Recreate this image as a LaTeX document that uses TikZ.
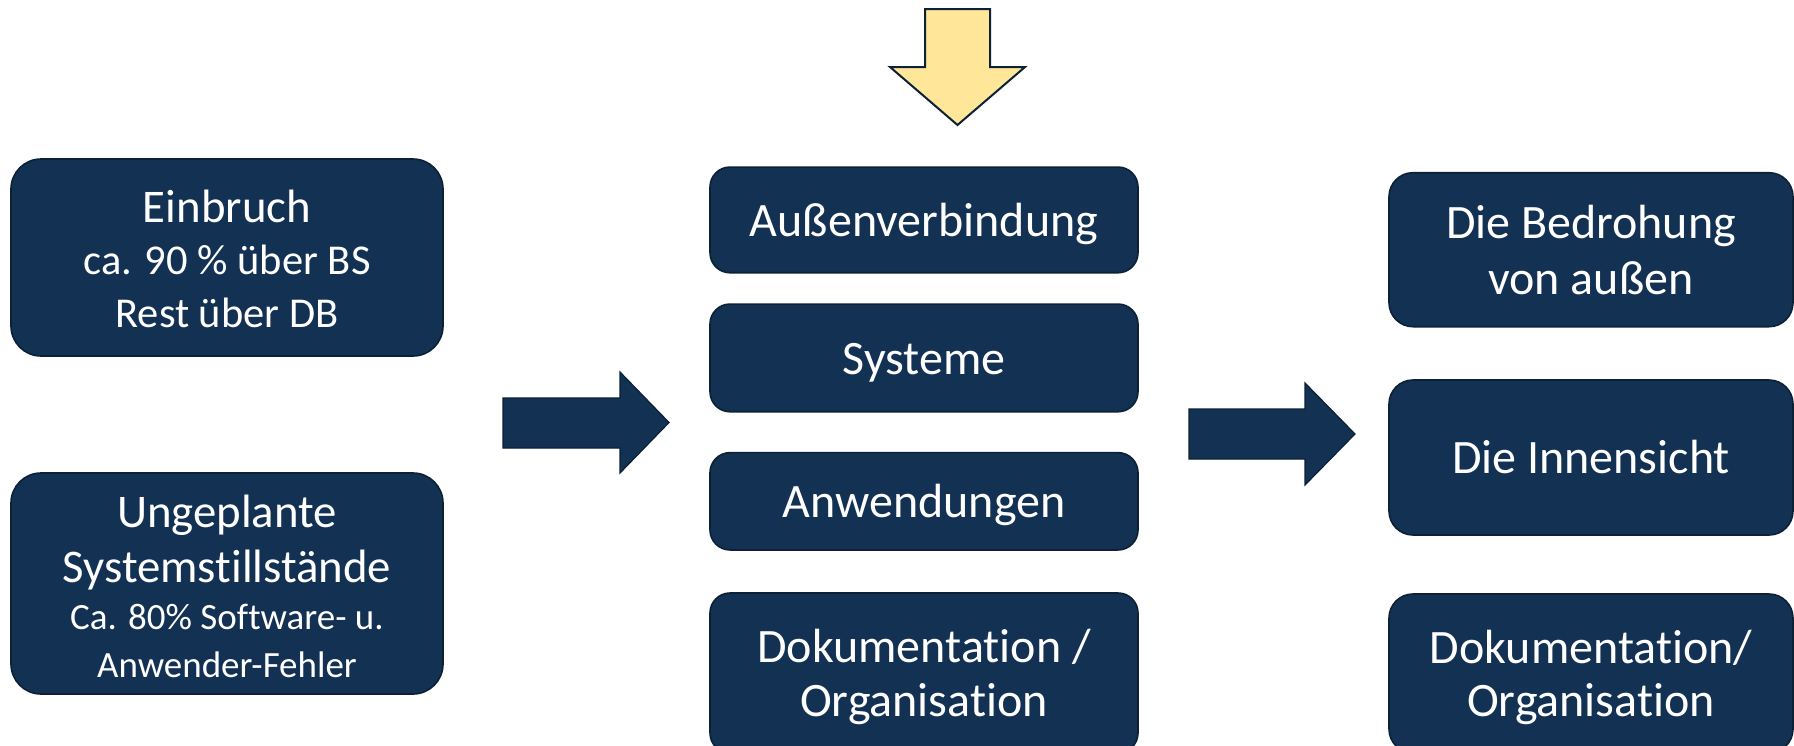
\documentclass[tikz,border=0pt]{standalone}
\usepackage{fontspec}
\setmainfont{Carlito}[Ligatures=NoCommon]
\definecolor{navy}{HTML}{133153}
\definecolor{navyline}{HTML}{0C2036}
\definecolor{gold}{HTML}{FFE699}
\begin{document}
\begin{tikzpicture}[x=0.5pt,y=-0.5pt,
  box/.style={draw=navyline, fill=navy, text=white, line width=0.8pt,
    inner sep=0pt, align=center, text depth=0pt},
  leftbox/.style={box, rounded corners=15pt, minimum width=216pt},
  midbox/.style={box, rounded corners=10pt, minimum width=214pt,
    font=\fontsize{24}{26.75}\selectfont, text height=16.3pt},
  rightbox/.style={box, rounded corners=12pt, minimum width=202pt,
    font=\fontsize{24}{26.75}\selectfont, text height=16.3pt},
  blockarrow/.style={fill=navy, draw=navyline, line width=0.6pt},
  goldarrow/.style={fill=gold, draw=navyline, line width=1pt, line join=miter}
]
\useasboundingbox (0,0) rectangle (1794,745);
\clip (0,0) rectangle (1794,745);

% left column
\node[leftbox, minimum height=98.5pt, font=\fontsize{23.4}{26.25}\selectfont,
  text height=69.5pt] (ein) at (227,257.5)
  {Einbruch\\{\fontsize{21.25}{26.25}\selectfont ca. 90 \% über BS}\\{\fontsize{21.25}{26.25}\selectfont Rest über DB}};
\node[leftbox, minimum height=110.5pt, font=\fontsize{23.4}{23.75}\selectfont,
  text height=93.5pt] (ung) at (227,583.5)
  {Ungeplante\\[3.75pt]Systemstillstände\\{\fontsize{18.5}{23.75}\selectfont Ca. 80\% Software- u.}\\{\fontsize{18.5}{23.75}\selectfont Anwender-Fehler}};

% middle column
\node[midbox, minimum height=52.85pt] (aus) at (924,219.9) {Außenverbindung};
\node[midbox, minimum height=53.85pt] (sys) at (924,357.9) {Systeme};
\node[midbox, minimum height=48.65pt] (anw) at (924,501.3) {Anwendungen};
\node[midbox, minimum height=80pt, text height=43.05pt] (dokm) at (924,673) {Dokumentation /\\Organisation};

% right column
\node[rightbox, minimum height=77pt, font=\fontsize{24}{28}\selectfont, text height=44.3pt] (bed) at (1591,249.7) {Die Bedrohung\\von außen};
\node[rightbox, minimum height=77.5pt] (inn) at (1591,457.5) {Die Innensicht};
\node[rightbox, minimum height=79.5pt, text height=43.05pt] (dokr) at (1591,673.5) {Dokumentation/\\Organisation};

% block arrows
\draw[blockarrow] (503,398) -- (620,398) -- (620,372) -- (669,422.5) -- (620,473) -- (620,448) -- (503,448) -- cycle;
\draw[blockarrow] (1189,409) -- (1305,409) -- (1305,383) -- (1355,434) -- (1305,485) -- (1305,459) -- (1189,459) -- cycle;
\draw[goldarrow] (925,9) -- (990,9) -- (990,67) -- (1025,67) -- (957.5,125) -- (890,67) -- (925,67) -- cycle;
\end{tikzpicture}
\end{document}
